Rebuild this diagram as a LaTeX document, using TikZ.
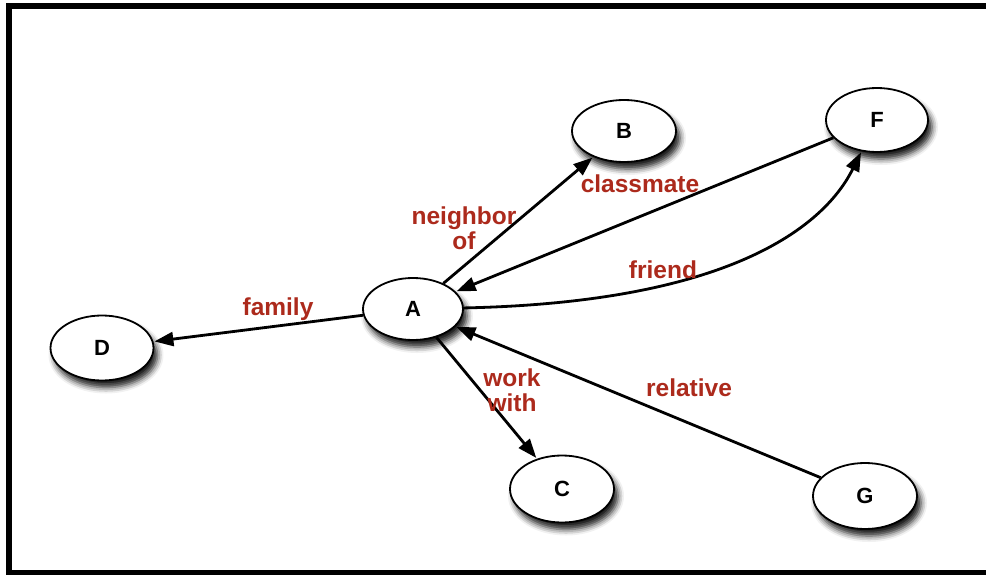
\documentclass[tikz,border=0pt]{standalone}
\usepackage{fontspec}
\setmainfont{Liberation Sans}
\usetikzlibrary{arrows.meta,shapes.geometric,shadows.blur}
\definecolor{labelred}{RGB}{172,42,28}
\tikzset{
  person/.style={ellipse, draw=black, line width=1.8pt, fill=white,
    inner sep=0pt, font=\fontsize{22}{24}\selectfont\bfseries,
    blur shadow={shadow xshift=4pt, shadow yshift=-7pt,
      shadow blur radius=6pt, shadow opacity=90}},
  rel/.style={text=labelred, align=center, inner sep=0pt,
    font=\fontsize{24.5}{25}\selectfont\bfseries},
  link/.style={line width=2.8pt, draw=black,
    -{Triangle[length=19pt,width=14pt]}, shorten >=1pt}
}
\begin{document}
\begin{tikzpicture}[x=1pt, y=-1pt]
  \useasboundingbox (0,0) rectangle (986,575);
  % open frame: left, top and bottom bars
  \fill[black] (6,3) rectangle (12,575);
  \fill[black] (6,3) rectangle (986,9);
  \fill[black] (6,570) rectangle (986,575);

  % people
  \node[person, minimum width=100pt, minimum height=62pt] (A) at (413,309) {A};
  \node[person, minimum width=104pt, minimum height=62pt] (B) at (624,131) {B};
  \node[person, minimum width=102pt, minimum height=64pt] (F) at (877,120) {F};
  \node[person, minimum width=103pt, minimum height=65pt] (D) at (102,348) {D};
  \node[person, minimum width=104pt, minimum height=67pt] (C) at (562,489) {C};
  \node[person, minimum width=104pt, minimum height=66pt] (G) at (865,496) {G};

  % relations
  \draw[link] (A) -- (B);
  \draw[link] (F) -- (A);
  \draw[link] (A) .. controls (750,302) and (830,215) .. (F);
  \draw[link] (A) -- (D);
  \draw[link] (A) -- (C);
  \draw[link] (G) -- (A);

  % relation labels
  \node[rel] (lnb) at (464,228) {neighbor\\of};
  \node[rel] (lcm) at (640,184) {classmate};
  \node[rel] (lfr) at (663,270) {friend};
  \node[rel] (lfa) at (278,309) {family};
  \node[rel] (lww) at (512,390) {work\\with};
  \node[rel] (lre) at (689,388) {relative};
\end{tikzpicture}
\end{document}
